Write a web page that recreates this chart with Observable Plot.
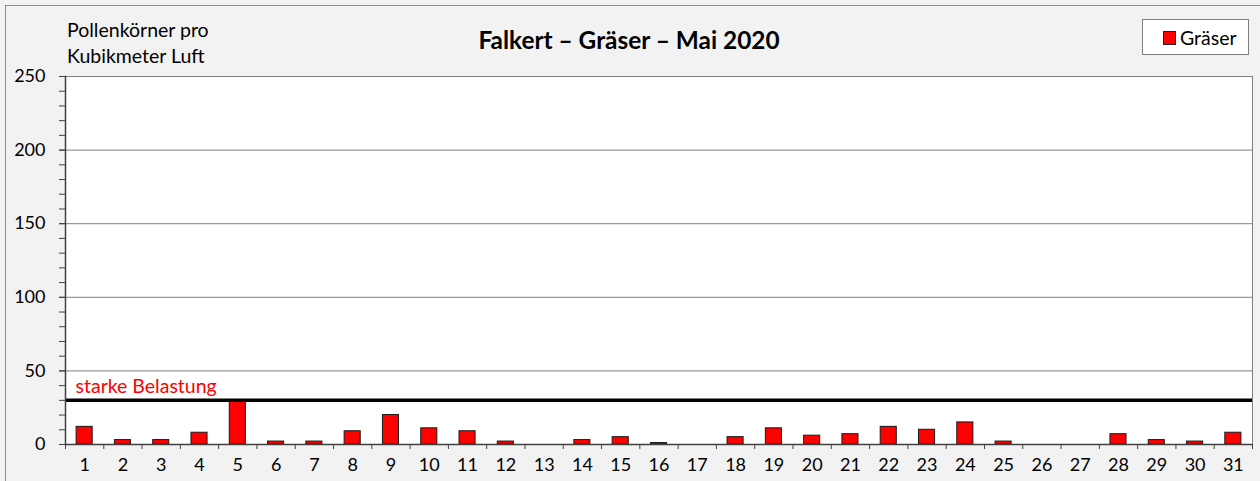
<!DOCTYPE html>
<html>
<head>
<meta charset="utf-8">
<script src="https://cdn.jsdelivr.net/npm/d3@7"></script>
<script src="https://cdn.jsdelivr.net/npm/@observablehq/plot@0.6"></script>
<style>
  html, body { margin: 0; padding: 0; background: #f2f2f2; overflow: hidden; }
  body { font-family: Lato, "Open Sans", sans-serif; }
  #wrap { position: relative; width: 1260px; height: 481px; }
  #border { position: absolute; left: 5px; top: 5px; width: 1270px; height: 490px; border: 1px solid #8c8c8c; box-sizing: border-box; }
  #chart { position: absolute; left: 0; top: 0; }
  .ov { position: absolute; white-space: nowrap; color: #000; }
  #title { left: 0; width: 1258px; top: 25px; text-align: center; font-weight: bold; font-size: 24.4px; line-height: 30px; }
  #ylab { left: 67px; top: 17px; font-size: 19.5px; line-height: 26px; }
  #legend { position: absolute; left: 1142px; top: 19px; width: 107px; height: 36px; background: #fff; border: 1px solid #7f7f7f; box-sizing: border-box; }
  #legend .sw { position: absolute; left: 20px; top: 11px; width: 13px; height: 14px; background: #ff0000; border: 1px solid #222; box-sizing: border-box; }
  #legend .lt { position: absolute; left: 37px; top: 5.5px; font-size: 19.5px; line-height: 24px; }
</style>
</head>
<body>
<div id="wrap">
  <div id="border"></div>
  <div id="chart"></div>
  <div id="title" class="ov">Falkert – Gräser – Mai 2020</div>
  <div id="ylab" class="ov">Pollenkörner pro<br>Kubikmeter Luft</div>
  <div id="legend"><div class="sw"></div><div class="lt">Gräser</div></div>
</div>
<script>
const days = d3.range(1, 32);
const graeser = [12, 3, 3, 8, 30, 2, 2, 9, 20, 11, 9, 2, 0, 3, 5, 1, 0, 5, 11, 6, 7, 12, 10, 15, 2, 0, 0, 7, 3, 2, 8];
const threshold = 30;
const thresholdLabel = "starke Belastung";
const yMajorTicks = [0, 50, 100, 150, 200, 250];
const yMinorTicks = d3.range(0, 251, 10);
const gridLines = [50, 100, 150, 200, 250];

const data = days.map((d, i) => ({day: d, value: graeser[i]}));
const halfBar = 0.21;

const chart = Plot.plot({
  width: 1260,
  height: 481,
  marginLeft: 65,
  marginTop: 76,
  marginRight: 8,
  marginBottom: 37,
  style: {background: "transparent", fontFamily: "Lato, 'Open Sans', sans-serif", color: "#000"},
  x: {type: "linear", domain: [0.5, 31.5]},
  y: {domain: [0, 250]},
  marks: [
    Plot.frame({fill: "white", stroke: null}),
    Plot.ruleY(gridLines, {stroke: "#808080", strokeWidth: 1}),
    Plot.frame({stroke: "#808080", strokeWidth: 1}),
    Plot.rectY(data.filter(d => d.value > 0), {
      x1: d => d.day - halfBar,
      x2: d => d.day + halfBar,
      y: "value",
      fill: "#ff0000",
      stroke: "#1a1a1a",
      strokeWidth: 1
    }),
    Plot.ruleY([threshold], {stroke: "#000", strokeWidth: 3.5}),
    Plot.text([thresholdLabel], {
      frameAnchor: "left", y: () => threshold, text: d => d,
      textAnchor: "start", dx: 10, dy: -14, fill: "#ff0000", fontSize: 19.5
    }),
    Plot.ruleY([0], {stroke: "#404040", strokeWidth: 1.5}),
    Plot.frame({anchor: "left", stroke: "#404040", strokeWidth: 1.5}),
    Plot.axisY({ticks: yMinorTicks, tickFormat: () => "", tickSize: 6, stroke: "#404040", label: null}),
    Plot.axisY({ticks: yMajorTicks, tickSize: 6, tickPadding: 14, fontSize: 18, label: null, stroke: "#404040"}),
    Plot.axisX({ticks: d3.range(0.5, 32, 1), tickFormat: () => "", tickSize: 5, stroke: "#404040", label: null}),
    Plot.axisX({ticks: days, tickSize: 0, tickPadding: 14, fontSize: 18, label: null, tickFormat: d => String(d)})
  ]
});
document.getElementById("chart").appendChild(chart);
</script>
</body>
</html>
